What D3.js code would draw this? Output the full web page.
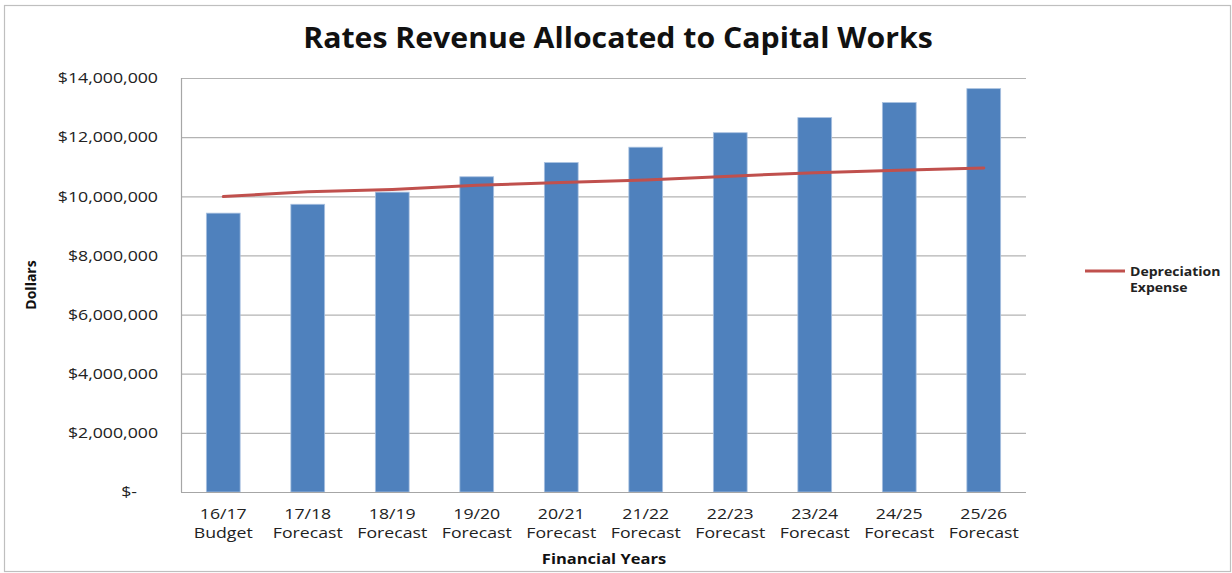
<!DOCTYPE html>
<html>
<head>
<meta charset="utf-8">
<script src="https://cdn.jsdelivr.net/npm/d3@7"></script>
<style>
  html, body { margin: 0; padding: 0; background: #fff; }
  svg { display: block; font-family: "Open Sans", "Noto Sans", sans-serif; }
</style>
</head>
<body>
<svg id="chart" width="1232" height="573"></svg>
<script>
// Financial years (two-line labels)
const years = ["16/17", "17/18", "18/19", "19/20", "20/21", "21/22", "22/23", "23/24", "24/25", "25/26"];
const yearKinds = ["Budget", "Forecast", "Forecast", "Forecast", "Forecast", "Forecast", "Forecast", "Forecast", "Forecast", "Forecast"];

// Rates revenue allocated to capital works (bars)
const ratesRevenue = [9430000, 9730000, 10140000, 10660000, 11140000, 11660000, 12150000, 12660000, 13170000, 13640000];

// Depreciation expense (line)
const depreciation = [9990000, 10150000, 10230000, 10370000, 10470000, 10550000, 10680000, 10800000, 10880000, 10960000];

const yTicks = [0, 2000000, 4000000, 6000000, 8000000, 10000000, 12000000, 14000000];

const svg = d3.select("#chart");
const plot = { left: 181, right: 1026, top: 78, bottom: 492 };
const SX = 1.18; // horizontal widening of the label type

// Chart frame
svg.append("rect")
  .attr("x", 4.5).attr("y", 5.5)
  .attr("width", 1226).attr("height", 566)
  .attr("fill", "#fff")
  .attr("stroke", "#bfbfbf").attr("stroke-width", 1.2);

const x = d3.scaleBand()
  .domain(years)
  .range([plot.left, plot.right])
  .paddingInner(0.6)
  .paddingOuter(0.3);

const y = d3.scaleLinear()
  .domain([0, 14000000])
  .range([plot.bottom, plot.top]);

// Gridlines
svg.append("g")
  .selectAll("line")
  .data(yTicks.filter(d => d > 0))
  .join("line")
  .attr("x1", plot.left).attr("x2", plot.right)
  .attr("y1", d => y(d) + 0.5).attr("y2", d => y(d) + 0.5)
  .attr("stroke", "#b3b3b3").attr("stroke-width", 1.2);

// Y axis labels
const fmt = d => d === 0 ? "$-" : "$" + d3.format(",")(d);
svg.append("g")
  .selectAll("text")
  .data(yTicks)
  .join("text")
  .attr("transform", d => `translate(${d === 0 ? 137 : 158},${y(d)}) scale(${SX},1)`)
  .attr("dy", "0.35em")
  .attr("text-anchor", "end")
  .attr("font-size", 15)
  .attr("fill", "#222")
  .text(fmt);

// Bars
svg.append("g")
  .selectAll("rect")
  .data(ratesRevenue)
  .join("rect")
  .attr("x", (d, i) => x(years[i]))
  .attr("y", d => y(d))
  .attr("width", x.bandwidth())
  .attr("height", d => y(0) - y(d))
  .attr("fill", "#4f81bd")
  .attr("stroke", "#a9c1e0")
  .attr("stroke-width", 0.8);

// Axis lines
svg.append("line")
  .attr("x1", plot.left + 0.5).attr("x2", plot.left + 0.5)
  .attr("y1", plot.top).attr("y2", plot.bottom)
  .attr("stroke", "#a6a6a6").attr("stroke-width", 1.2);
svg.append("line")
  .attr("x1", plot.left).attr("x2", plot.right)
  .attr("y1", plot.bottom + 0.5).attr("y2", plot.bottom + 0.5)
  .attr("stroke", "#a6a6a6").attr("stroke-width", 1.2);

// Depreciation line
const line = d3.line()
  .x((d, i) => x(years[i]) + x.bandwidth() / 2)
  .y(d => y(d));
svg.append("path")
  .datum(depreciation)
  .attr("d", line)
  .attr("fill", "none")
  .attr("stroke", "#c0504d")
  .attr("stroke-width", 3)
  .attr("stroke-linecap", "round");

// X axis labels
const xl = svg.append("g")
  .selectAll("text")
  .data(years)
  .join("text")
  .attr("transform", d => `translate(${x(d) + x.bandwidth() / 2},0) scale(${SX},1)`)
  .attr("text-anchor", "middle")
  .attr("font-size", 15)
  .attr("fill", "#222");
xl.append("tspan").attr("x", 0).attr("y", 519).text(d => d);
xl.append("tspan").attr("x", 0).attr("y", 538).text((d, i) => yearKinds[i]);

// Title
svg.append("text")
  .attr("transform", `translate(618,48) scale(1.08,1)`)
  .attr("text-anchor", "middle")
  .attr("font-size", 28)
  .attr("font-weight", "bold")
  .attr("fill", "#111")
  .text("Rates Revenue Allocated to Capital Works");

// Axis titles
svg.append("text")
  .attr("transform", `translate(604,564) scale(${SX},1)`)
  .attr("text-anchor", "middle")
  .attr("font-size", 14)
  .attr("font-weight", "bold")
  .attr("fill", "#111")
  .text("Financial Years");

svg.append("text")
  .attr("transform", "translate(36,285) rotate(-90)")
  .attr("text-anchor", "middle")
  .attr("font-size", 14)
  .attr("font-weight", "bold")
  .attr("fill", "#111")
  .text("Dollars");

// Legend
const lg = svg.append("g").attr("transform", "translate(1085,271)");
lg.append("line")
  .attr("x1", 0).attr("x2", 40).attr("y1", 0).attr("y2", 0)
  .attr("stroke", "#c0504d").attr("stroke-width", 3);
const lt = lg.append("text")
  .attr("transform", "translate(45,0) scale(1.08,1)")
  .attr("font-size", 13)
  .attr("font-weight", "bold")
  .attr("fill", "#222");
lt.append("tspan").attr("x", 0).attr("y", 4.5).text("Depreciation");
lt.append("tspan").attr("x", 0).attr("y", 21.5).text("Expense");
</script>
</body>
</html>
